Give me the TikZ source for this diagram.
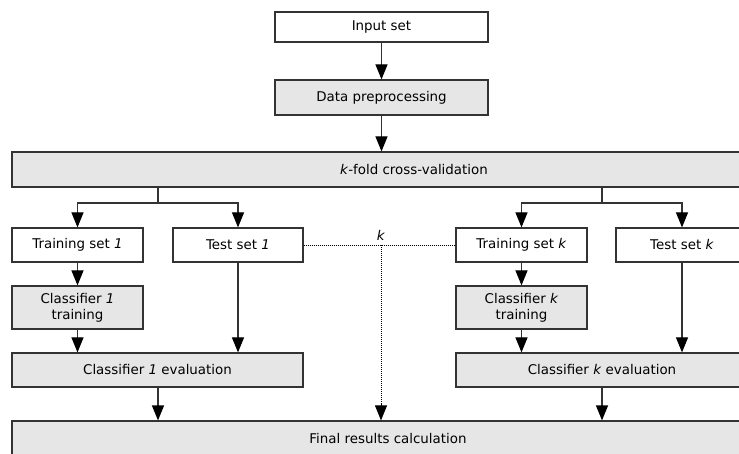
\documentclass[tikz,border=0pt]{standalone}
\usepackage{fontspec}
\setmainfont{DejaVu Sans}
\usetikzlibrary{arrows.meta}
\definecolor{boxgray}{HTML}{E6E6E6}
\definecolor{edge}{HTML}{333333}
\tikzset{
  whitebox/.style={draw=edge, line width=1.2pt, fill=white, rectangle, inner sep=0pt, align=center,
    font=\fontsize{13.4}{16}\selectfont},
  graybox/.style={whitebox, fill=boxgray},
  tip/.style={-{Triangle[width=12pt,length=15pt,color=black]}},
  conn/.style={draw=edge, line width=1.2pt, tip},
  plainline/.style={draw=edge, line width=1.2pt},
  dotline/.style={draw=black, line width=0.9pt, dash pattern=on 1pt off 1pt},
  tiponly/.style={draw=black, line width=0.9pt, solid, tip}
}
\begin{document}
\begin{tikzpicture}[x=1pt,y=-1pt]
\useasboundingbox (0,0) rectangle (739,454);
\clip (0,0) rectangle (739,454);
% nodes (centres computed from left/top/right/bottom)
\node[whitebox, minimum width=213pt, minimum height=30pt] (in) at (381.5,27) {Input set};
\node[graybox, minimum width=213pt, minimum height=35pt] (pre) at (381.5,97.5) {Data preprocessing};
\node[graybox, minimum width=804pt, minimum height=35pt] (kf) at (414,169.5) {\textit{k}-fold cross-validation};
\node[whitebox, minimum width=131pt, minimum height=34pt] (tr1) at (77.5,245) {Training set \textit{1}};
\node[whitebox, minimum width=130pt, minimum height=34pt] (te1) at (238,245) {Test set \textit{1}};
\node[whitebox, minimum width=131pt, minimum height=34pt] (trk) at (521.5,245) {Training set \textit{k}};
\node[whitebox, minimum width=132pt, minimum height=34pt] (tek) at (682,245) {Test set \textit{k}};
\node[graybox, minimum width=131pt, minimum height=43pt] (c1t) at (77.5,307.5) {Classifier \textit{1}\\training};
\node[graybox, minimum width=131pt, minimum height=43pt] (ckt) at (521.5,307.5) {Classifier \textit{k}\\training};
\node[graybox, minimum width=291pt, minimum height=34pt] (c1e) at (157.5,370) {Classifier \textit{1} evaluation};
\node[graybox, minimum width=292pt, minimum height=34pt] (cke) at (602,370) {Classifier \textit{k} evaluation};
\node[graybox, minimum width=752pt, minimum height=35pt] (fin) at (388,438.5) {Final results calculation};
% branch points
\coordinate (b1) at (158,203);
\coordinate (bk) at (602,203);
\coordinate (dj) at (381,245);
\coordinate (dt) at (381,404);
% connectors
\draw[conn] (in.south) -- (pre.north);
\draw[conn] (pre.south) -- (kf.north -| pre.south);
\draw[plainline] (kf.south -| b1) -- (b1);
\draw[conn] (b1) -| (tr1.north);
\draw[conn] (b1) -| (te1.north);
\draw[plainline] (kf.south -| bk) -- (bk);
\draw[conn] (bk) -| (trk.north);
\draw[conn] (bk) -| (tek.north);
\draw[conn] (tr1.south) -- (c1t.north);
\draw[conn] (c1t.south) -- (c1e.north -| c1t.south);
\draw[conn] (te1.south) -- (c1e.north -| te1.south);
\draw[conn] (trk.south) -- (ckt.north);
\draw[conn] (ckt.south) -- (cke.north -| ckt.south);
\draw[conn] (tek.south) -- (cke.north -| tek.south);
\draw[conn] (c1e.south -| b1) -- (fin.north -| b1);
\draw[conn] (cke.south) -- (fin.north -| cke.south);
% dotted k-fold link
\draw[dotline] (te1.east) -- (trk.west);
\draw[dotline] (dj) -- (dt);
\draw[tiponly] (dt) -- (fin.north -| dt);
\node[font=\fontsize{13.4}{16}\selectfont, inner sep=0pt, anchor=south] (klab) at (381,241) {\textit{k}};
\end{tikzpicture}
\end{document}
